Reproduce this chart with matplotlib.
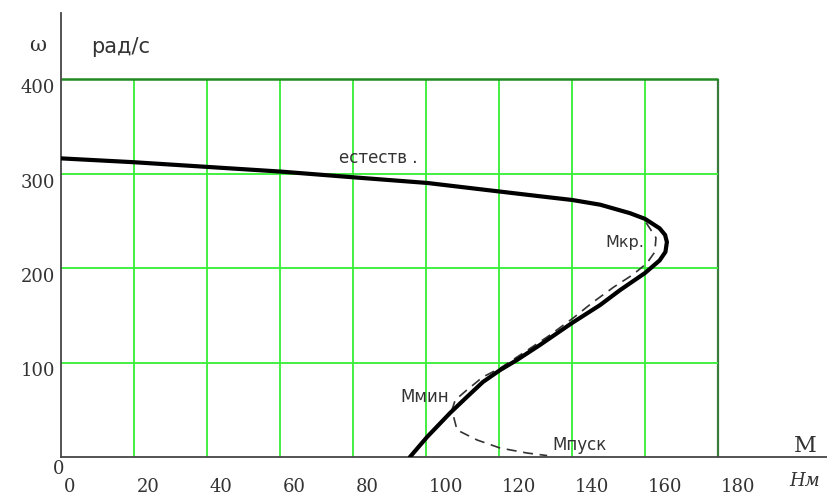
import matplotlib.pyplot as plt
from matplotlib.transforms import offset_copy

# natural characteristic (thick line), M in Nm, w in rad/s
nat_M = [0, 19.7, 40, 60.3, 80, 100.3, 120, 131, 140, 147.7, 155.9, 160, 164,
         165.5, 166, 165.6, 164, 160, 153.2, 147.7, 140, 131.2, 124.9, 120.3,
         115.6, 111.2, 106.6, 100.3, 95.6]
nat_w = [316, 312, 307, 302, 296, 290, 281, 276, 272, 267, 258, 252, 242,
         235, 227.5, 217, 208, 194.7, 176.7, 160.8, 141.8, 118.5, 102.6, 92,
         79.4, 63.5, 46.6, 21.2, 0]

# dashed characteristic
dash_M = [160.3, 163, 162.7, 160.5, 156.7, 151.5, 145.8, 140.3, 133.2, 126.6,
          120.3, 115.6, 111.2, 108, 107.1, 108.5, 114, 120.3, 127.7, 133.2]
dash_w = [248, 232, 217, 205, 193, 180, 164, 147, 127, 110,
          94, 84.7, 70.9, 60.3, 49.7, 28.6, 18, 9.5, 4.2, 1.5]

x_ticks = [0, 20, 40, 60, 80, 100, 120, 140, 160, 180]
y_ticks = [100, 200, 300, 400]

green = "#36ee36"
dark_green = "#3a7d3a"
axis_col = "#454545"
txt = "#333333"

fig = plt.figure(figsize=(8.28, 4.97), dpi=100)
ax = fig.add_axes([61 / 828, 40 / 497, (828 - 61) / 828, (457 - 13) / 497])
ax.set_xlim(0, (828 - 61) / 3.65)
ax.set_ylim(0, 444 / 0.945)
ax.set_xticks([])
ax.set_yticks([])
for s in ["top", "right"]:
    ax.spines[s].set_visible(False)
for s in ["left", "bottom"]:
    ax.spines[s].set_color(axis_col)
    ax.spines[s].set_linewidth(1.3)

# grid
ax.vlines(x_ticks[1:-1], 0, y_ticks[-1], colors=green, lw=1.3, zorder=1)
ax.vlines(x_ticks[-1], 0, y_ticks[-1], colors=dark_green, lw=1.6, zorder=1)
ax.hlines(y_ticks[:-1], 0, x_ticks[-1], colors=green, lw=1.3, zorder=1)
ax.hlines(y_ticks[-1], 0, x_ticks[-1], colors="#238a23", lw=1.8, zorder=1)

# curves
ax.plot(dash_M, dash_w, color=txt, lw=1.2, dashes=(6, 4), zorder=3)
ax.plot(nat_M, nat_w, color="black", lw=3.0, solid_capstyle="round",
        solid_joinstyle="round", zorder=4)

# tick labels (offset from the grid lines like the original)
serif = "DejaVu Serif"
tx = offset_copy(ax.transData, fig=fig, x=3, y=-30, units="dots")
for v in x_ticks:
    ax.text(v, 0, str(v), transform=tx, ha="left", va="center",
            family=serif, fontsize=13, color=txt)
ty = offset_copy(ax.transData, fig=fig, x=-6, y=-9, units="dots")
for v in y_ticks:
    ax.text(0, v, str(v), transform=ty, ha="right", va="center",
            family=serif, fontsize=13, color=txt)
to = offset_copy(ax.transData, fig=fig, x=-2, y=-12, units="dots")
ax.text(0, 0, "0", transform=to, ha="center", va="center",
        family=serif, fontsize=13, color=txt)

# axis titles
fig.text(38 / 828, 1 - 46 / 497, "ω", family=serif, fontsize=15,
         ha="center", va="center", color=txt)
fig.text(121 / 828, 1 - 47 / 497, "рад/с", family="DejaVu Sans", fontsize=15,
         ha="center", va="center", color=txt)
fig.text(805 / 828, 1 - 446 / 497, "M", family=serif, fontsize=16,
         ha="center", va="center", color=txt)
fig.text(805 / 828, 1 - 481 / 497, "Нм", family=serif, style="italic",
         fontsize=13, ha="center", va="center", color=txt)

# curve labels
lab = dict(family="DejaVu Sans", ha="center", va="center", color=txt)
fig.text(378 / 828, 1 - 158 / 497, "естеств .", fontsize=12, **lab)
fig.text(625 / 828, 1 - 242 / 497, "Мкр.", fontsize=11.5, **lab)
fig.text(425 / 828, 1 - 397 / 497, "Ммин", fontsize=12, **lab)
fig.text(580 / 828, 1 - 445 / 497, "Мпуск", fontsize=12, **lab)

fig.savefig("out.png", dpi=100, facecolor="white")
